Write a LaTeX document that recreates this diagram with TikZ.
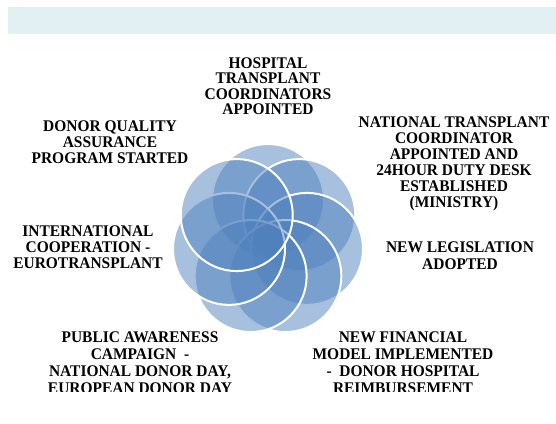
\documentclass[tikz,border=0pt]{standalone}
\usepackage{fontspec}
\setmainfont{Liberation Serif}
\newfontfamily\lblfont{Liberation Serif Bold}[FakeStretch=0.95]
\definecolor{bannerblue}{HTML}{E2F0F4}
\definecolor{petalblue}{HTML}{4F81BD}
\begin{document}
\begin{tikzpicture}[x=0.75pt,y=-0.75pt,
  petal/.style={circle, minimum size=84pt, inner sep=0pt, fill=petalblue, fill opacity=0.5, draw=white, line width=1.5pt},
  lbl/.style={align=center, anchor=north, inner sep=0pt, text=black, font=\lblfont\fontsize{12.2}{#1}\selectfont},
  lbl/.default=12]
\useasboundingbox (0,0) rectangle (556,424);
\fill[bannerblue] (8,7) rectangle (556,34);
\coordinate (c) at (268,240);
\foreach \a [count=\i] in {90,38.571,-12.857,-64.286,-115.714,-167.143,141.429}
  \node[petal] (p\i) at ([shift={(-\a:40)}]c) {};
\begin{scope}
\clip (0,0) rectangle (556,391);
\node[lbl=11.5] (hosp) at (268,57.5) {HOSPITAL\\TRANSPLANT\\COORDINATORS\\APPOINTED};
\node[lbl=12] (natl) at (454,116.7) {NATIONAL TRANSPLANT\\COORDINATOR\\APPOINTED AND\\24HOUR DUTY DESK\\ESTABLISHED\\(MINISTRY)};
\node[lbl=12.3] (legis) at (460,241.7) {NEW LEGISLATION\\ADOPTED};
\node[lbl=12] (donor) at (110,120) {DONOR QUALITY\\ASSURANCE\\PROGRAM STARTED};
\node[lbl=12.3] (intl) at (88,225) {INTERNATIONAL\\COOPERATION -\\EUROTRANSPLANT};
\node[lbl=12.6] (public) at (140,331.7) {PUBLIC AWARENESS\\CAMPAIGN\ \ -\\NATIONAL DONOR DAY,\\EUROPEAN DONOR DAY};
\node[lbl=12.6] (fin) at (403,331.7) {NEW FINANCIAL\\MODEL IMPLEMENTED\\-\ \ DONOR HOSPITAL\\REIMBURSEMENT};
\end{scope}
\end{tikzpicture}
\end{document}
